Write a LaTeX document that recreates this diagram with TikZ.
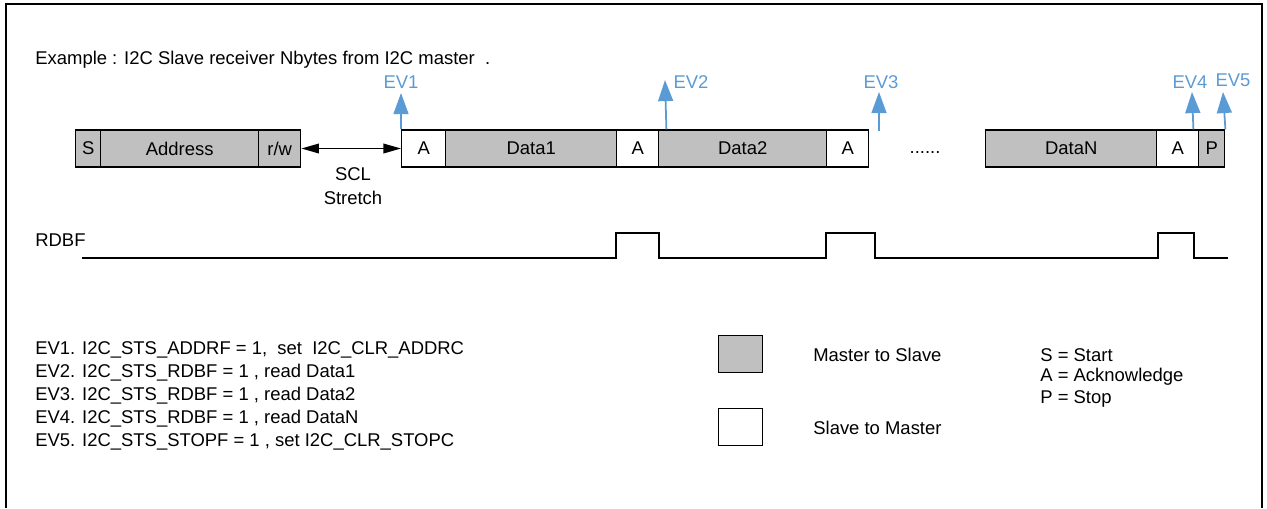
\documentclass[tikz,border=0pt]{standalone}
\usepackage{fontspec}
\setmainfont{Liberation Sans}
\usetikzlibrary{arrows.meta}
\definecolor{i2cgray}{HTML}{C0C0C0}
\definecolor{i2cblue}{HTML}{5B9BD5}

\begin{document}
\begin{tikzpicture}[x=0.02cm,y=-0.02cm,font=\fontsize{10.5}{12.5}\selectfont,
  cell/.style={draw,line width=0.8pt,minimum height=0.74cm,inner sep=0pt,anchor=west},
  mcell/.style={cell,fill=i2cgray},
  scell/.style={cell,fill=white},
  evarrow/.style={i2cblue,line width=1pt,-{Triangle[width=8.5pt,length=12pt]}},
  evlabel/.style={text=i2cblue},
  txt/.style={anchor=west,inner sep=0pt}]
  \useasboundingbox (0,0) rectangle (1267,508);
  \draw[line width=1.1pt] (6,508) -- (6,4) -- (1262,4) -- (1262,508);

  % title
  \node[txt] (title) at (35,60) {Example : I2C Slave receiver Nbytes from I2C master\ \ .};

  % frame cells
  \node[mcell,minimum width=0.50cm] (s) at (75,148.5) {S};
  \node[mcell,minimum width=3.16cm] (addr) at (100,148.5) {Address};
  \node[mcell,minimum width=0.84cm] (rw) at (258,148.5) {r/w};
  \node[scell,minimum width=0.88cm] (a1) at (401,148.5) {A};
  \node[mcell,minimum width=3.42cm] (d1) at (445,148.5) {Data1};
  \node[scell,minimum width=0.84cm] (a2) at (616,148.5) {A};
  \node[mcell,minimum width=3.36cm] (d2) at (658,148.5) {Data2};
  \node[scell,minimum width=0.84cm] (a3) at (826,148.5) {A};
  \node (dots) at (925,153) {......};
  \node[mcell,minimum width=3.42cm] (dn) at (985,148.5) {DataN};
  \node[scell,minimum width=0.84cm] (a4) at (1156,148.5) {A};
  \node[mcell,minimum width=0.52cm] (p) at (1198,148.5) {P};

  % clock stretch
  \draw[line width=0.8pt,{Triangle[width=5.5pt,length=10pt]}-{Triangle[width=5.5pt,length=10pt]}] (rw.east) -- (a1.west);
  \node[align=center,inner sep=0pt] (scl) at (353,186) {SCL\\[1pt]Stretch};

  % events
  \node[evlabel] (ev1) at (401,82) {EV1};
  \node[evlabel] (ev2) at (691,82) {EV2};
  \node[evlabel] (ev3) at (881,82) {EV3};
  \node[evlabel] (ev4) at (1190,82) {EV4};
  \node[evlabel] (ev5) at (1233,80) {EV5};
  \coordinate (t1) at (401,93);
  \coordinate (t2) at (665,80);
  \coordinate (b3) at (879,131);
  \coordinate (t3) at (879,92);
  \coordinate (t4) at (1192,92);
  \coordinate (t5) at (1223,92);
  \draw[evarrow] (a1.north west) -- (t1);
  \draw[evarrow] (a2.north east) ++(7,0) -- (t2);
  \draw[evarrow] (b3) -- (t3);
  \draw[evarrow] (a4.north east) ++(-6,0) -- (t4);
  \draw[evarrow] (p.north east) -- (t5);

  % RDBF
  \node[txt] (rdbf) at (35,240) {RDBF};
  \draw[line width=1.1pt] (82,258) -- (616,258) -- (616,233) -- (659,233) -- (659,258)
    -- (826,258) -- (826,233) -- (875,233) -- (875,258) -- (1158,258) -- (1158,233)
    -- (1194,233) -- (1194,258) -- (1228,258);

  % event list
  \node[txt] (l1) at (35,350) {EV1. I2C\_STS\_ADDRF = 1,\ \ set\ \ I2C\_CLR\_ADDRC};
  \node[txt] (l2) at (35,373) {EV2. I2C\_STS\_RDBF = 1 , read Data1};
  \node[txt] (l3) at (35,396) {EV3. I2C\_STS\_RDBF = 1 , read Data2};
  \node[txt] (l4) at (35,419) {EV4. I2C\_STS\_RDBF = 1 , read DataN};
  \node[txt] (l5) at (35,442) {EV5. I2C\_STS\_STOPF = 1 , set I2C\_CLR\_STOPC};

  % legend
  \node[mcell,minimum width=0.88cm] (kms) at (718,354) {};
  \node[scell,minimum width=0.88cm] (ksm) at (718,427) {};
  \node[txt] (tms) at (813,355) {Master to Slave};
  \node[txt] (tsm) at (813,428) {Slave to Master};
  \node[txt] (ks) at (1040,355) {S = Start};
  \node[txt] (ka) at (1040,377) {A = Acknowledge};
  \node[txt] (kp) at (1040,399) {P = Stop};
\end{tikzpicture}
\end{document}
